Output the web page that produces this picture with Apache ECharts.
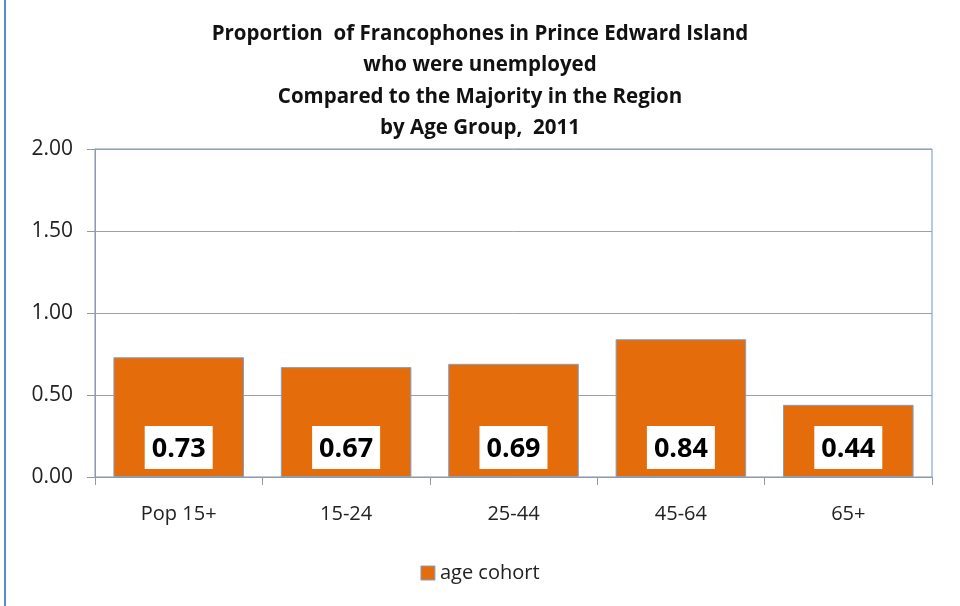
<!DOCTYPE html>
<html><head><meta charset="utf-8">
<script src="https://cdn.jsdelivr.net/npm/echarts@6/dist/echarts.min.js"></script>
<style>html,body{margin:0;padding:0;background:#fff}#c{width:960px;height:606px}</style>
</head><body><div id="c"></div>
<script>
const categories = ['Pop 15+', '15-24', '25-44', '45-64', '65+'];
const values = [0.73, 0.67, 0.69, 0.84, 0.44];
const seriesName = 'age cohort';
const titleLines = ['Proportion  of Francophones in Prince Edward Island', 'who were unemployed', 'Compared to the Majority in the Region', 'by Age Group,  2011'];

const font = '"Open Sans", "Noto Sans", sans-serif';
const chart = echarts.init(document.getElementById('c'), null, {renderer: 'canvas'});
chart.setOption({
  animation: false,
  backgroundColor: '#fff',
  title: {
    text: titleLines.join('\n'),
    left: 'center', top: 13,
    textStyle: {fontFamily: font, fontSize: 20.5, fontWeight: 'bold', color: '#111', lineHeight: 31.5}
  },
  graphic: [{type: 'rect', shape: {x: 4, y: 0, width: 2, height: 606}, style: {fill: '#5B8BD0'}}],
  legend: {
    bottom: 18, left: 'center',
    itemWidth: 14, itemHeight: 14, itemGap: 3,
    textStyle: {fontFamily: font, fontSize: 20, color: '#222'},
    data: [{name: seriesName, icon: 'rect', itemStyle: {borderColor: '#7FA0D0', borderWidth: 1}}]
  },
  grid: {left: 95, right: 28, top: 149, bottom: 129, show: true, borderColor: '#6A93D4', borderWidth: 1},
  xAxis: {
    type: 'category', data: categories,
    axisLine: {lineStyle: {color: '#999'}},
    axisTick: {show: true, length: 8, lineStyle: {color: '#999'}},
    axisLabel: {fontFamily: font, fontSize: 20, color: '#222', margin: 27}
  },
  yAxis: {
    type: 'value', min: 0, max: 2, interval: 0.5,
    axisLine: {show: true, lineStyle: {color: '#999'}},
    axisTick: {show: true, length: 8, lineStyle: {color: '#999'}},
    splitLine: {lineStyle: {color: '#A0A0A0'}},
    axisLabel: {fontFamily: font, fontSize: 21, color: '#222', margin: 22, formatter: v => v.toFixed(2)}
  },
  series: [{
    name: seriesName, type: 'bar', data: values,
    barCategoryGap: '22%',
    itemStyle: {color: '#E46C0A', borderColor: '#7FA0D0', borderWidth: 1},
    label: {
      show: true, position: 'insideBottom', distance: 8,
      formatter: p => p.value.toFixed(2),
      backgroundColor: '#fff', padding: [10, 7, 6, 7],
      fontFamily: font, fontSize: 27, fontWeight: 'bold', color: '#000'
    }
  }]
});
</script></body></html>
